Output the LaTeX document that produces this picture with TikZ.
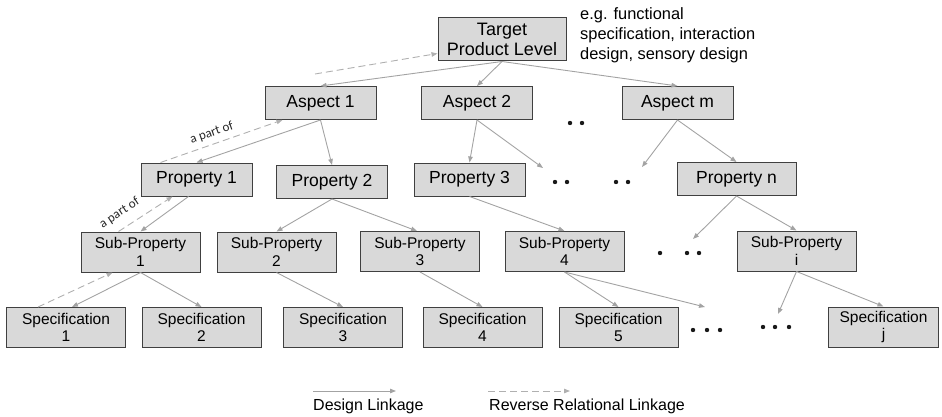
\documentclass[tikz,border=0pt]{standalone}
\usepackage{fontspec}
\setmainfont{Liberation Sans}
\newfontfamily\notefont{Carlito}
\usepackage{xcolor}
\usepackage{tikz}
\usetikzlibrary{arrows.meta}

\definecolor{boxfill}{HTML}{D9D9D9}
\definecolor{boxline}{HTML}{404040}
\definecolor{linkgray}{HTML}{A3A3A3}
\definecolor{revgray}{HTML}{B0B0B0}

\begin{document}
\begin{tikzpicture}[
  x=1pt, y=-1pt,
  box/.style={draw=boxline, line width=1pt, fill=boxfill, inner sep=0pt, align=center},
  top/.style={box, minimum width=128pt, minimum height=43pt, font=\fontsize{18}{20}\selectfont},
  item/.style={box, minimum width=111pt, minimum height=33pt, font=\fontsize{17.5}{20}\selectfont},
  leaf/.style={box, minimum width=119pt, minimum height=40pt, font=\fontsize{15.5}{17.5}\selectfont},
  link/.style={->, draw=linkgray, line width=0.9pt, >={Triangle[length=6pt, width=4.5pt]}},
  revlink/.style={link, draw=revgray, dash pattern=on 7pt off 4pt},
  partof/.style={font=\notefont\fontsize{13}{15}\selectfont, text=black!85, sloped, above=#1, inner sep=1pt},
  note/.style={font=\fontsize{16.4}{20}\selectfont, align=left, inner sep=0pt, anchor=north west},
  dot/.style={fill=black!90}
]
  \useasboundingbox (0,0) rectangle (942,417);

  % ===== levels =====
  \node[top] (tpl) at (502,39.5) {Target\\Product Level};
  \node[note] (eg) at (580,7) {e.g. functional\\specification, interaction\\design, sensory design};

  \node[item] (a1) at (320.5,103) {Aspect 1};
  \node[item] (a2) at (477,103) {Aspect 2};
  \node[item] (am) at (677.5,103) {Aspect m};

  \node[item] (p1) at (196.5,179.5) {Property 1};
  \node[item] (p2) at (332,182) {Property 2};
  \node[item] (p3) at (469.5,179.5) {Property 3};
  \node[item, minimum width=119pt] (pn) at (736.5,179) {Property n};

  \node[leaf] (s1) at (140.5,252) {Sub-Property\\1};
  \node[leaf] (s2) at (276.5,252) {Sub-Property\\2};
  \node[leaf] (s3) at (420,251.5) {Sub-Property\\3};
  \node[leaf] (s4) at (564.5,251.5) {Sub-Property\\4};
  \node[leaf] (si) at (796.5,251) {Sub-Property\\i};

  \node[leaf] (c1) at (66,327.5) {Specification\\1};
  \node[leaf] (c2) at (201.5,327.5) {Specification\\2};
  \node[leaf] (c3) at (343,327.5) {Specification\\3};
  \node[leaf] (c4) at (482.5,327.5) {Specification\\4};
  \node[leaf] (c5) at (618.5,327.5) {Specification\\5};
  \node[leaf, minimum width=110pt] (cj) at (883.5,327) {Specification\\j};

  % open ends
  \coordinate (d1) at (543,168);
  \coordinate (d2) at (642,167);
  \coordinate (d3) at (693,239);
  \coordinate (d4) at (705,307);
  \coordinate (d5) at (778,314);
  \coordinate (rv) at (315,74);

  % ===== design linkage =====
  \draw[link] (tpl.south) -- (a1.north);
  \draw[link] (tpl.south) -- (a2.north);
  \draw[link] (tpl.south) -- (am.north);
  \draw[link] (a1.south) -- (p1.north);
  \draw[link] (a1.south) -- (p2.north);
  \draw[link] (a2.south) -- (p3.north);
  \draw[link] (a2.south) -- (d1);
  \draw[link] (am.south) -- (d2);
  \draw[link] (am.south) -- (pn.north);
  \draw[link] ([xshift=-8pt]p1.south) -- (s1.north);
  \draw[link] (p2.south) -- (s2.north);
  \draw[link] (p2.south) -- ([xshift=-3pt]s3.north);
  \draw[link] (p3.south) -- (s4.north);
  \draw[link] (pn.south) -- (d3);
  \draw[link] (pn.south) -- (si.north);
  \draw[link] (s1.south) -- ([xshift=6pt]c1.north);
  \draw[link] (s1.south) -- (c2.north);
  \draw[link] (s2.south) -- (c3.north);
  \draw[link] (s3.south) -- (c4.north);
  \draw[link] (s4.south) -- (c5.north);
  \draw[link] (s4.south) -- (d4);
  \draw[link] (si.south) -- (d5);
  \draw[link] (si.south) -- (cj.north);

  % ===== reverse relational linkage =====
  \draw[revlink] (rv) -- ([yshift=-14pt]tpl.west);
  \draw[revlink] ([xshift=-36pt]p1.north) -- node[partof=4pt, pos=0.45] {a part of} ([xshift=-38pt]a1.south);
  \draw[revlink] ([xshift=-22pt]s1.north) -- node[partof=8pt, pos=0.17] {a part of} ([xshift=-24pt]p1.south);
  \draw[revlink] ([xshift=-28pt]c1.north) -- ([xshift=-28pt]s1.south);

  % dots
  \foreach \x/\y in {570/123, 582/123, 555/182, 567/182, 616/182, 628/182,
                     660/253, 687/253, 699/253, 693/330, 707/330, 720/330,
                     763/327, 775/327, 789/327}
    \fill[dot] (\x,\y) circle (2.2pt);

  % ===== legend =====
  \coordinate (lg1) at (313,391);
  \coordinate (lg2) at (396,391);
  \coordinate (lg3) at (488,391);
  \coordinate (lg4) at (570,391);
  \draw[link] (lg1) -- (lg2);
  \draw[revlink] (lg3) -- (lg4);
  \node[note, font=\fontsize{16}{18}\selectfont] (lgt1) at (313,399) {Design Linkage};
  \node[note, font=\fontsize{16}{18}\selectfont] (lgt2) at (489,399) {Reverse Relational Linkage};
\end{tikzpicture}
\end{document}
